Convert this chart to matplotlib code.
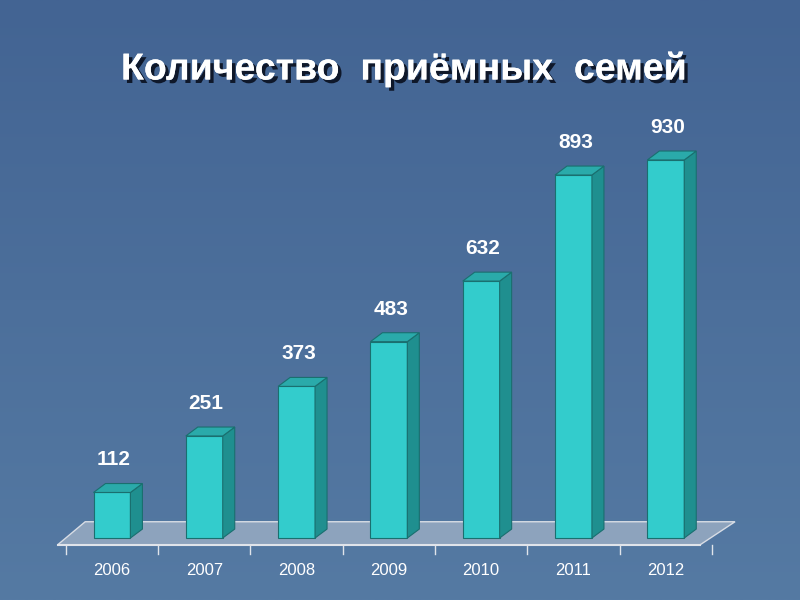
import matplotlib
matplotlib.use("Agg")
import matplotlib.pyplot as plt
import matplotlib.patheffects as pe
from matplotlib.patches import Polygon
from matplotlib.colors import LinearSegmentedColormap
import numpy as np

years = ["2006", "2007", "2008", "2009", "2010", "2011", "2012"]
values = [112, 251, 373, 483, 632, 893, 930]
title = "Количество  приёмных  семей"

fig = plt.figure(figsize=(8, 6), dpi=100)
bg = fig.add_axes([0, 0, 1, 1])
grad = np.linspace(0, 1, 256).reshape(-1, 1)
cm = LinearSegmentedColormap.from_list("bg", ["#436493", "#557aa3"])
bg.imshow(grad, aspect="auto", cmap=cm, extent=[0, 1, 0, 1])
bg.axis("off")

ax = fig.add_axes([0, 0, 1, 1])
ax.set_xlim(-1.213, 7.454)
ax.set_ylim(-152.5, 1323.5)
ax.axis("off")
ax.patch.set_alpha(0)

x = np.arange(len(years))
w = 0.40
dx, dy = 0.13, 22

ax.add_patch(Polygon([(-0.59, -17), (6.37, -17), (6.75, 40), (-0.29, 40)],
                     closed=True, facecolor="#8da3bd", edgecolor="#d8dde5", lw=1, zorder=1))
ax.plot([-0.59, 6.37], [-17, -17], color="#e0e4ea", lw=1.5, zorder=2)
for b in np.arange(len(years) + 1) - 0.5:
    ax.plot([b, b], [-17, -40], color="#e0e4ea", lw=1, zorder=2)

ax.bar(x, values, width=w, color="#33cccc", edgecolor="#1a6f6f", lw=0.8, zorder=3)
for xi, v in zip(x, values):
    l, r = xi - w / 2, xi + w / 2
    ax.add_patch(Polygon([(r, 0), (r + dx, dy), (r + dx, v + dy), (r, v)],
                         facecolor="#1f8f8f", edgecolor="#1a6f6f", lw=0.8, zorder=3))
    ax.add_patch(Polygon([(l, v), (r, v), (r + dx, v + dy), (l + dx, v + dy)],
                         facecolor="#2aaaaa", edgecolor="#1a6f6f", lw=0.8, zorder=3))
    ax.text(xi + 0.02, v + 80, str(v), ha="center", va="center", fontsize=15,
            fontweight="bold", color="white", family="Liberation Sans", zorder=4)

for xi, yr in zip(x, years):
    ax.text(xi, -80, yr, ha="center", va="center", fontsize=12,
            color="white", family="Liberation Sans")

fig.text(0.505, 0.885, title, ha="center", va="center", fontsize=27, fontweight="bold",
         color="white", family="Liberation Sans",
         path_effects=[pe.withSimplePatchShadow(offset=(2.5, -2.5), shadow_rgbFace="#0c1424", alpha=0.95),
                       pe.Normal()])

fig.savefig("out.png", dpi=100)
